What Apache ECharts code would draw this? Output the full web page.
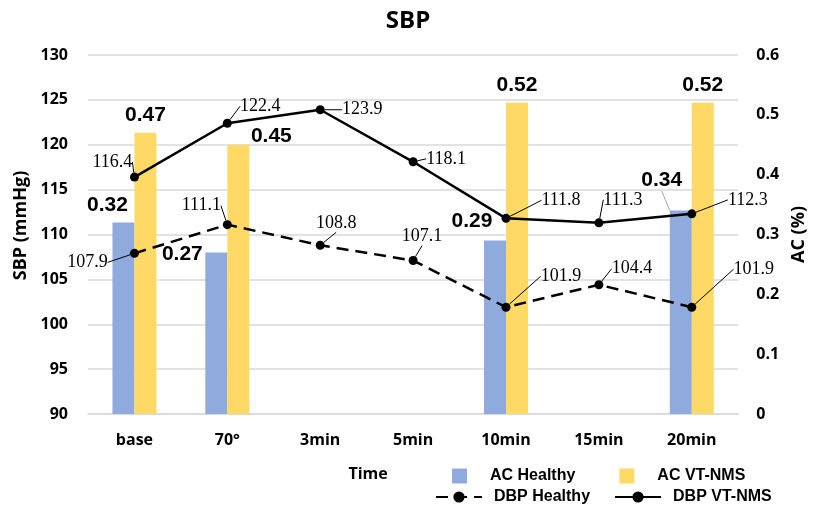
<!DOCTYPE html>
<html>
<head>
<meta charset="utf-8">
<script src="https://cdn.jsdelivr.net/npm/echarts@6/dist/echarts.min.js"></script>
<style>html,body{margin:0;padding:0;background:#fff;}#c{width:816px;height:508px;}</style>
</head>
<body>
<div id="c"></div>
<script>
const categories = ['base', '70°', '3min', '5min', '10min', '15min', '20min'];
const acHealthy = [0.32, 0.27, null, null, 0.29, null, 0.34];
const acVtNms = [0.47, 0.45, null, null, 0.52, null, 0.52];
const dbpHealthy = [107.9, 111.1, 108.8, 107.1, 101.9, 104.4, 101.9];
const dbpVtNms = [116.4, 122.4, 123.9, 118.1, 111.8, 111.3, 112.3];
const leftAxis = { min: 90, max: 130, interval: 5 };
const rightAxis = { min: 0, max: 0.6, interval: 0.1 };

// label placement (offset of label centre from the mark anchor)
const offHealthyBar = [[-16, -17], [-34, 2], null, null, [-23, -19], null, [-19, -30]];
const offVtBar = [[0, -18], [33, -9], null, null, [0, -18], null, [0, -18]];
const offHealthyLine = [[-47, 9], [-26, -19], [16, -22], [9, -24], [55, -31], [33, -16], [62, -38]];
const offVtLine = [[-22, -15], [33, -17], [42, 0], [33, -3], [55, -18], [24, -23], [56, -14]];
const leaderOnHealthyBar = [false, false, false, false, false, false, true];

const sansFont = '"Open Sans", "Liberation Sans", sans-serif';
const arialFont = '"Liberation Sans", Arial, sans-serif';
const serifFont = '"Liberation Serif", "Times New Roman", serif';

function barLayout(offs) {
  return function (p) {
    const o = offs[p.dataIndex];
    if (!o) return {};
    return { x: p.rect.x + p.rect.width / 2 + o[0], y: p.rect.y + o[1], align: 'center', verticalAlign: 'middle' };
  };
}
function pointLayout(offs) {
  return function (p) {
    const o = offs[p.dataIndex];
    return { x: p.rect.x + p.rect.width / 2 + o[0], y: p.rect.y + p.rect.height / 2 + o[1], align: 'center', verticalAlign: 'middle' };
  };
}

const barLabel = {
  show: true, position: 'top', distance: 0,
  fontFamily: arialFont, fontWeight: 'bold', fontSize: 21, color: '#000',
  formatter: function (p) { return p.value == null ? '' : p.value.toFixed(2); }
};
const lineLabel = {
  show: true, position: 'inside',
  fontFamily: serifFont, fontSize: 18, color: '#000',
  formatter: function (p) { return p.value.toFixed(1); }
};
const legendText = { fontFamily: arialFont, fontWeight: 'bold', fontSize: 16, color: '#000' };

const chart = echarts.init(document.getElementById('c'), null, { renderer: 'canvas' });
chart.setOption({
  animation: false,
  backgroundColor: '#fff',
  title: {
    text: 'SBP', left: 'center', top: 4,
    textStyle: { fontFamily: sansFont, fontWeight: 'bold', fontSize: 24, color: '#000' }
  },
  grid: { left: 88, right: 76, top: 55, bottom: 94 },
  legend: [
    {
      data: ['AC Healthy', 'AC VT-NMS'],
      left: 447, top: 463, itemWidth: 15, itemHeight: 15, itemGap: 44, icon: 'rect',
      textStyle: Object.assign({ padding: [0, 0, 0, 18] }, legendText)
    },
    {
      data: ['DBP Healthy', 'DBP VT-NMS'],
      left: 430, top: 484, itemWidth: 46, itemHeight: 14, itemGap: 24,
      textStyle: Object.assign({ padding: [0, 0, 0, 7] }, legendText)
    }
  ],
  xAxis: {
    type: 'category', data: categories,
    name: 'Time', nameLocation: 'middle', nameGap: 52,
    nameTextStyle: { fontFamily: sansFont, fontWeight: 'bold', fontSize: 16, color: '#000', padding: [0, 90, 0, 0] },
    axisLine: { show: true, lineStyle: { color: '#d9d9d9', width: 1.5 } },
    axisTick: { show: false },
    axisLabel: { fontFamily: sansFont, fontWeight: 'bold', fontSize: 16, color: '#000', margin: 18 }
  },
  yAxis: [
    {
      type: 'value', min: leftAxis.min, max: leftAxis.max, interval: leftAxis.interval,
      name: 'SBP (mmHg)', nameLocation: 'middle', nameGap: 50, nameRotate: 90,
      nameTextStyle: { fontFamily: sansFont, fontWeight: 'bold', fontSize: 18, color: '#000', padding: [0, 0, 0, 18] },
      axisLine: { show: false }, axisTick: { show: false },
      axisLabel: { fontFamily: sansFont, fontWeight: 'bold', fontSize: 16, color: '#000', margin: 20 },
      splitLine: { lineStyle: { color: '#d9d9d9', width: 1.5 } }
    },
    {
      type: 'value', min: rightAxis.min, max: rightAxis.max, interval: rightAxis.interval,
      name: 'AC (%)', nameLocation: 'middle', nameGap: 50, nameRotate: 90,
      nameTextStyle: { fontFamily: sansFont, fontWeight: 'bold', fontSize: 18, color: '#000' },
      axisLine: { show: false }, axisTick: { show: false },
      axisLabel: { fontFamily: sansFont, fontWeight: 'bold', fontSize: 16, color: '#000', margin: 18 },
      splitLine: { show: false }
    }
  ],
  series: [
    {
      name: 'AC Healthy', type: 'bar', yAxisIndex: 1, barWidth: 22, barGap: '0%',
      itemStyle: { color: '#8faadc' },
      data: acHealthy.map(function (v, i) {
        return leaderOnHealthyBar[i] ? { value: v, labelLine: { show: true, lineStyle: { color: '#a6a6a6', width: 1 } } } : v;
      }),
      label: barLabel,
      labelLine: { show: false },
      labelLayout: barLayout(offHealthyBar)
    },
    {
      name: 'AC VT-NMS', type: 'bar', yAxisIndex: 1, barWidth: 22, barGap: '0%',
      itemStyle: { color: '#ffd966' },
      data: acVtNms,
      label: barLabel,
      labelLayout: barLayout(offVtBar)
    },
    {
      name: 'DBP Healthy', type: 'line', yAxisIndex: 0, data: dbpHealthy,
      symbol: 'circle', symbolSize: 9,
      itemStyle: { color: '#000' },
      lineStyle: { color: '#000', width: 2.5, type: [12, 7] },
      label: lineLabel,
      labelLine: { show: true, lineStyle: { color: '#000', width: 1 } },
      labelLayout: pointLayout(offHealthyLine),
      z: 5
    },
    {
      name: 'DBP VT-NMS', type: 'line', yAxisIndex: 0, data: dbpVtNms,
      symbol: 'circle', symbolSize: 9,
      itemStyle: { color: '#000' },
      lineStyle: { color: '#000', width: 2.5 },
      label: lineLabel,
      labelLine: { show: true, lineStyle: { color: '#000', width: 1 } },
      labelLayout: pointLayout(offVtLine),
      z: 5
    }
  ]
});
</script>
</body>
</html>
